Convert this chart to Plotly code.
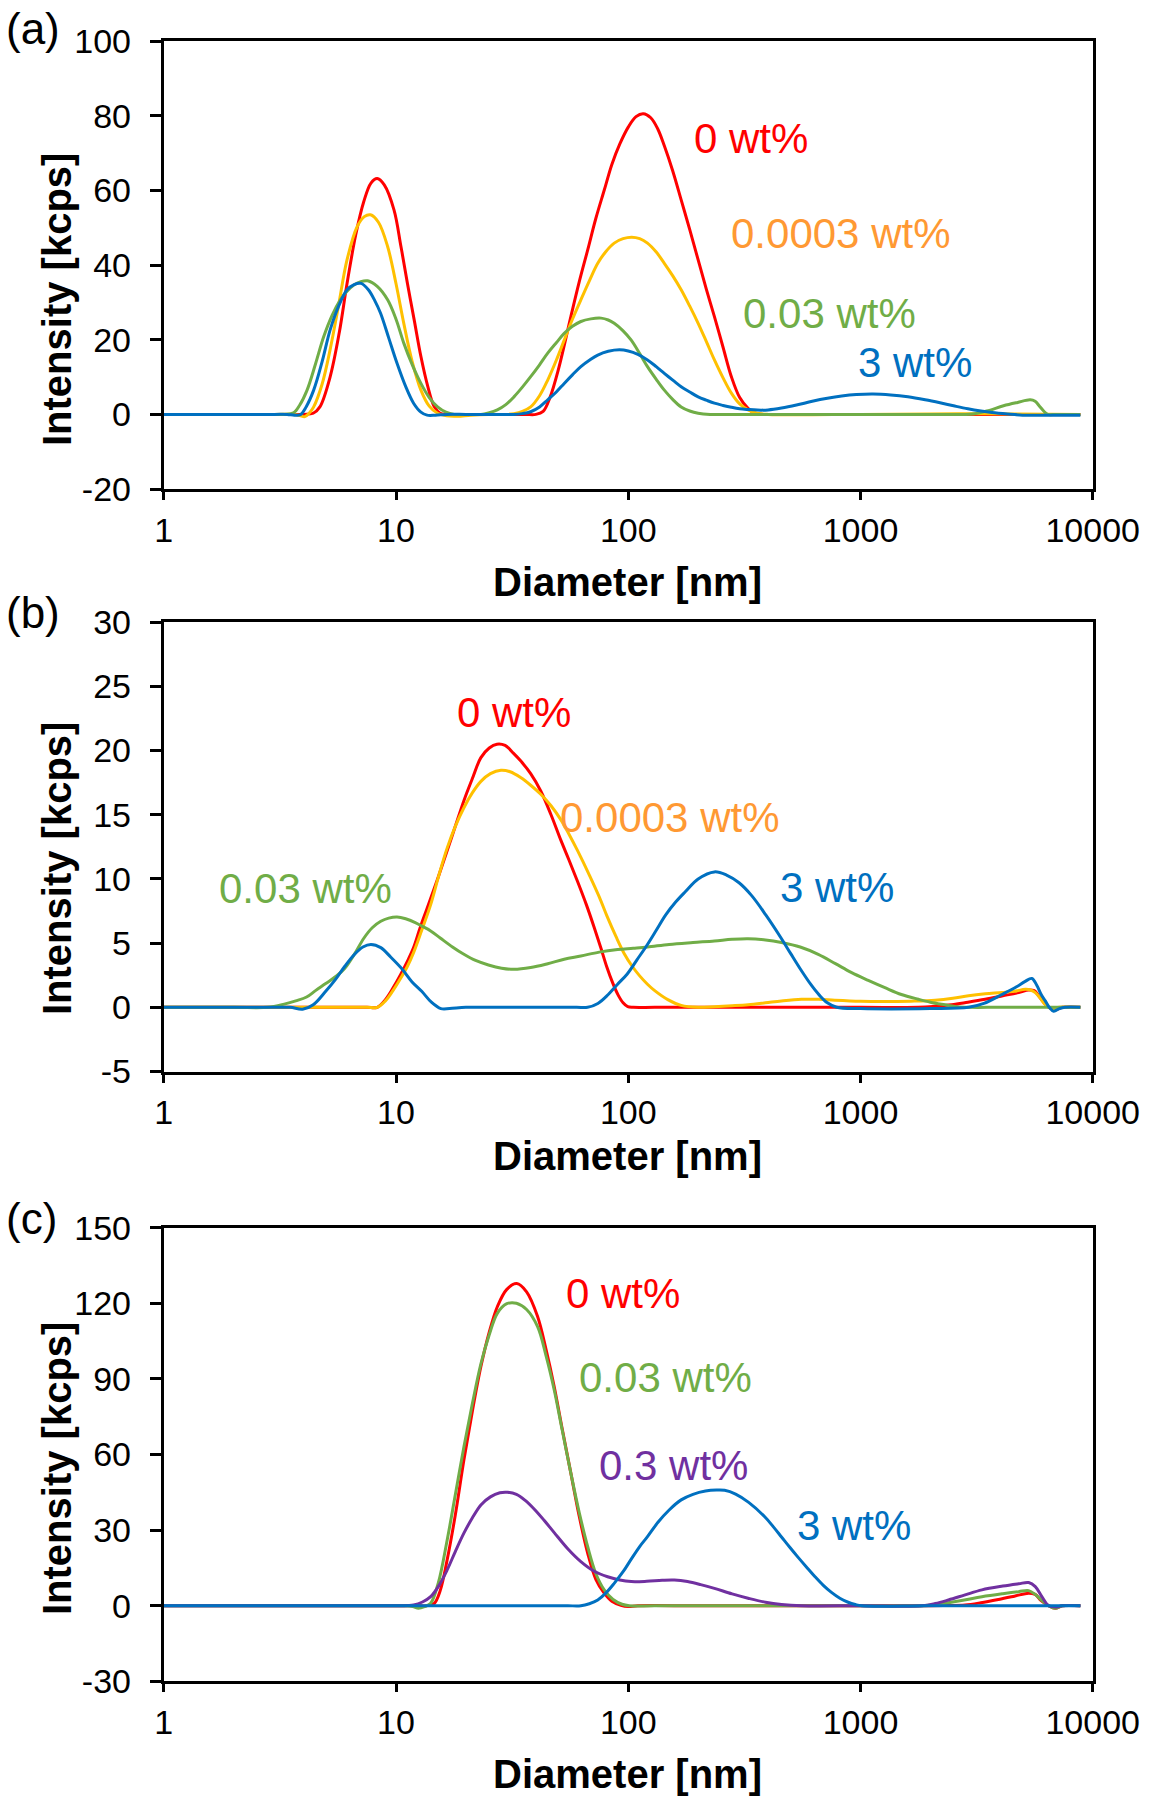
import plotly.graph_objects as go

# ---------------- data (diameter [nm], intensity [kcps]) ----------------
X_TICKS = [1, 10, 100, 1000, 10000]
X_TICK_TEXT = ["1", "10", "100", "1000", "10000"]

# panel (a)
A_RED_D = [1, 2, 3, 4.0, 4.4, 4.7, 5.2, 5.7, 6.15, 6.7, 7.26, 7.8, 8.3, 8.9, 9.8, 10.5, 11.2, 12.0, 12.8, 13.7, 14.6, 15.5, 16.5, 20, 25, 30, 36, 40, 43, 46, 50, 56.6, 61.5, 66.9, 72.5, 78.9, 85, 92, 100, 108, 116, 125, 134, 143, 155, 169, 184, 200, 217, 235, 256, 278, 302, 328, 350, 380, 600, 1000, 2000, 4000, 8850]
A_RED_I = [0, 0, 0, 0, 0.3, 2, 10, 22, 35, 48, 57, 62, 63.2, 61.5, 54.8, 45, 35.1, 25, 15.5, 7.5, 2.1, 0.3, 0, 0, 0, 0, 0, 0, 0.8, 4.5, 12, 26.2, 35.5, 44.1, 52.5, 60.2, 67, 72.5, 77, 79.8, 80.6, 79.5, 76.5, 72, 65.5, 57.5, 49.5, 41.4, 33.5, 26.2, 18, 10.1, 4.5, 1.6, 0.3, 0, 0, 0, 0, 0, 0]

A_GOLD_D = [1, 2, 3, 3.6, 3.85, 4.05, 4.25, 4.42, 4.8, 5.2, 5.65, 6.15, 6.8, 7.3, 7.76, 8.4, 9.2, 10.0, 10.8, 11.7, 12.8, 13.9, 15.1, 16.5, 18.4, 21, 25, 30, 32.2, 35, 38, 41.5, 45, 49, 53, 57.5, 62.5, 68, 73.9, 80, 87, 95, 103.5, 112, 121, 132, 143, 156, 169, 184, 200, 217, 235, 256, 278, 302, 328, 360, 400, 1000, 2000, 3000, 4500, 8850]
A_GOLD_I = [0, 0, 0, 0, -0.3, -0.6, 0.5, 2, 8, 17.3, 29, 41.4, 50.3, 53, 53.5, 51.5, 45, 35, 24.4, 14.5, 6.5, 2.2, 0.3, -0.4, -0.5, -0.2, 0, 0, 0.2, 0.8, 2, 5, 9.2, 14.5, 19.9, 25.5, 30.7, 35.8, 40.5, 43.6, 45.9, 47.1, 47.5, 47.1, 45.9, 43.5, 40.5, 37, 33.4, 29, 24.4, 19.5, 14.6, 9.8, 5.7, 2.8, 1.2, 0.3, 0, 0, 0.1, 0.2, 0.1, 0]

A_GREEN_D = [1, 2, 3, 3.3, 3.62, 3.85, 4.14, 4.5, 4.88, 5.3, 5.76, 6.15, 6.58, 7.05, 7.55, 8.3, 9.2, 10.0, 10.8, 11.8, 12.8, 13.9, 15.1, 16.4, 17.8, 20, 23.2, 25, 27.3, 29.7, 32.2, 35, 38, 41.5, 45, 49, 53, 57.5, 62.5, 69, 76.4, 82, 87, 95, 103, 112, 121, 132, 143, 156, 169, 184, 200, 225, 300, 500, 1000, 2000, 3050, 3500, 4130, 4750, 5380, 5650, 5900, 6150, 6400, 7000, 8850]
A_GREEN_I = [0, 0, 0, 0, 0.4, 2.5, 6.5, 13.5, 20.8, 26.5, 30.7, 33.0, 34.7, 35.6, 35.8, 34.3, 30.7, 25.5, 19.1, 13.0, 8.3, 4.5, 2, 0.6, 0, 0, 0, 0.4, 1.2, 2.6, 4.7, 7.3, 10.1, 13.3, 16.4, 19.2, 21.7, 23.6, 24.9, 25.6, 25.8, 25.3, 24.4, 22.4, 19.9, 16.3, 12.8, 9.4, 6.5, 3.9, 2, 0.9, 0.3, 0, 0, 0, 0, 0, 0.1, 0.9, 2.3, 3.2, 3.9, 3.5, 2.2, 0.9, 0, 0, 0]

A_BLUE_D = [1, 2, 3, 3.4, 3.65, 3.87, 4.1, 4.42, 4.8, 5.2, 5.65, 6.15, 6.6, 7.07, 7.6, 8.1, 8.58, 9.3, 10.1, 11.0, 11.9, 12.8, 13.6, 14.8, 16.6, 20, 25, 30, 32.2, 35, 38, 41.5, 45, 49, 53, 57.5, 62.5, 68, 73.9, 82, 91.6, 100, 110, 121, 132, 143, 156, 169, 184, 200, 217, 235, 256, 278, 302, 328, 360, 400, 457, 530, 620, 720, 830, 960, 1133, 1350, 1600, 1900, 2200, 2518, 2900, 3300, 3683, 4300, 4990, 6000, 8850]
A_BLUE_I = [0, 0, 0, 0, -0.2, -0.1, 2, 6.5, 14, 22.6, 28.9, 33.4, 34.8, 35.1, 33.4, 30.5, 27.1, 20.5, 13.7, 7.5, 3.0, 0.6, -0.2, -0.2, 0, 0, 0, 0, 0, 0.2, 0.7, 2, 3.9, 6, 8.3, 10.6, 12.8, 14.5, 15.9, 16.9, 17.3, 17, 16.1, 14.6, 12.8, 11, 9.1, 7.4, 6, 4.7, 3.8, 3.0, 2.4, 1.9, 1.5, 1.3, 1.15, 1.2, 1.7, 2.5, 3.5, 4.3, 4.9, 5.3, 5.45, 5.2, 4.7, 3.9, 3.1, 2.3, 1.5, 0.9, 0.5, 0.1, -0.2, -0.2, -0.2]

# panel (b)
B_RED_D = [1, 2, 4, 6, 7.5, 8.3, 9.0, 9.7, 10.5, 11.2, 11.9, 12.7, 13.6, 15.1, 16.6, 18, 19.6, 21.3, 23.2, 25.2, 27.2, 29.5, 32, 34.4, 38, 42, 46.5, 51.3, 55.5, 60.5, 66, 71.4, 76.3, 81, 85.7, 90.5, 95, 99.5, 105, 130, 300, 1000, 1775, 2100, 2470, 2900, 3443, 4100, 4800, 5300, 5600, 5850, 6150, 6460, 6900, 7400, 8850]
B_RED_I = [0, 0, 0, 0, 0, 0, 0.6, 1.5, 2.6, 3.6, 4.65, 6.2, 7.7, 10, 12.2, 14.1, 16.1, 17.8, 19.45, 20.2, 20.5, 20.4, 19.8, 19.2, 18.2, 16.85, 15.0, 13.0, 11.5, 9.8, 8.0, 6.2, 4.6, 3.1, 1.9, 0.95, 0.35, 0.05, 0, 0, 0, 0, 0, 0.08, 0.2, 0.4, 0.63, 0.9, 1.15, 1.35, 1.3, 0.9, 0.4, 0, -0.2, 0, 0]

B_GOLD_D = [1, 2, 4, 6, 7.5, 8.3, 9.0, 9.7, 10.5, 11.2, 11.9, 12.9, 14.1, 15.3, 16.6, 18, 19.6, 21.3, 23.2, 25.5, 28.3, 31, 34.4, 38, 42, 46.5, 51.3, 55.5, 60.5, 68, 75, 81, 88.6, 96, 104, 112, 121, 130, 148, 169, 200, 235, 280, 328, 390, 457, 557, 660, 775, 1000, 1274, 1650, 2095, 2500, 2920, 3450, 4066, 4600, 5130, 5400, 5660, 5950, 6250, 6650, 7200, 8850]
B_GOLD_I = [0, 0, 0, 0, 0, 0, 0.5, 1.3, 2.3, 3.2, 4.26, 6.0, 8.0, 10.3, 12.4, 14.1, 15.55, 16.7, 17.6, 18.2, 18.47, 18.35, 17.9, 17.3, 16.6, 15.7, 14.6, 13.5, 12.2, 10.3, 8.6, 7.1, 5.5, 4.2, 3.2, 2.45, 1.8, 1.3, 0.6, 0.15, 0, 0.05, 0.12, 0.2, 0.35, 0.5, 0.63, 0.62, 0.55, 0.47, 0.45, 0.48, 0.55, 0.7, 0.9, 1.05, 1.15, 1.25, 1.4, 1.35, 1.15, 0.7, 0.2, -0.1, 0, 0]

B_GREEN_D = [1, 2, 2.8, 3.3, 3.7, 4.12, 4.5, 4.98, 5.5, 6.02, 6.6, 7.28, 7.9, 8.6, 9.3, 10.1, 11, 12.1, 13, 14.1, 15.5, 17.5, 19.6, 22, 25, 28.5, 32.2, 38, 45, 53, 62.5, 75, 90, 105, 121, 150, 190, 235, 280, 328, 390, 457, 550, 658, 780, 916, 1080, 1274, 1500, 1775, 2000, 2313, 2600, 2920, 4000, 8850]
B_GREEN_I = [0, 0, 0, 0.25, 0.5, 0.8, 1.3, 1.85, 2.4, 3.04, 4.1, 5.4, 6.2, 6.7, 6.95, 7.04, 6.9, 6.6, 6.3, 5.95, 5.4, 4.7, 4.13, 3.65, 3.3, 3.05, 2.96, 3.1, 3.4, 3.75, 4.0, 4.3, 4.5, 4.6, 4.7, 4.9, 5.05, 5.17, 5.3, 5.35, 5.25, 5.05, 4.7, 4.13, 3.4, 2.7, 2.1, 1.53, 1.0, 0.63, 0.4, 0.2, 0.05, 0, 0, 0]

B_BLUE_D = [1, 2, 3, 3.5, 3.96, 4.4, 4.98, 5.5, 6.02, 6.6, 7.2, 7.8, 8.6, 9.5, 10.6, 11.7, 12.9, 14.2, 15.6, 17, 20, 30, 45, 60, 66.8, 74, 82, 90, 99, 109, 120, 132, 145, 160, 176, 200, 235, 265, 300, 340, 391, 455, 500, 550, 610, 665, 720, 790, 1000, 2000, 2920, 3400, 4066, 4700, 5100, 5470, 5750, 6000, 6250, 6500, 6790, 7200, 7600, 8850]
B_BLUE_I = [0, 0, 0, 0, -0.15, 0.2, 1.25, 2.2, 3.2, 4.1, 4.7, 4.9, 4.65, 3.9, 3.0, 2.0, 1.25, 0.4, -0.1, -0.1, 0, 0, 0, 0, 0, 0.3, 1.0, 1.8, 2.6, 3.7, 4.8, 6.0, 7.2, 8.2, 9.0, 10.0, 10.55, 10.3, 9.7, 8.7, 7.2, 5.4, 4.2, 3.0, 1.8, 0.95, 0.35, 0, -0.1, -0.1, 0, 0.3, 1.0, 1.6, 2.0, 2.25, 1.7, 1.0, 0.5, 0, -0.3, -0.1, 0, 0]

# panel (c)
C_RED_D = [1, 3, 6, 9, 11, 12.5, 13.5, 14.6, 15.5, 16.6, 18, 19.6, 21.3, 23.2, 25.2, 27.3, 30, 33.1, 36.5, 40.7, 44.3, 48, 52, 56.6, 61.5, 66.9, 72.5, 78.8, 85, 93, 100, 110, 200, 500, 1000, 2000, 2400, 2823, 3300, 3932, 4600, 5300, 5650, 6000, 6460, 6900, 7400, 8850]
C_RED_I = [0, 0, 0, 0, 0, 0, 0, 0.9, 6, 18.2, 36, 57.8, 77, 94.9, 108.5, 118.6, 125.5, 127.8, 124.5, 114.7, 101.5, 86.9, 70, 52.6, 35.5, 20.8, 10.5, 5.0, 1.8, 0.2, -0.3, 0, 0, 0, 0, 0, 0.1, 0.3, 1.2, 2.5, 3.8, 5.0, 4.5, 2, 0, -1, 0, 0]

C_GREEN_D = [1, 3, 6, 9, 11, 11.8, 12.5, 13.3, 14.1, 15.2, 16.6, 18, 19.6, 21.3, 23.2, 25.2, 27.3, 30, 33, 36.5, 40.7, 44.3, 48, 52, 56.6, 61.5, 66.9, 72.5, 78.8, 86, 94, 101, 130, 300, 1000, 1835, 2100, 2393, 2800, 3334, 4100, 4800, 5300, 5660, 6050, 6460, 6900, 7400, 8850]
C_GREEN_I = [0, 0, 0, 0, 0, -0.3, -1, -0.3, 1, 9, 26, 44, 63, 80, 96, 107.5, 116, 119.8, 120, 117.5, 110.7, 99, 85.6, 69.5, 52.6, 37, 23.4, 12.8, 6.3, 2.5, 0.6, 0, 0, 0, 0, 0, 0.4, 1.2, 2.3, 3.6, 4.8, 5.6, 6.0, 4.5, 2.0, 0, -1, 0, 0]

C_PURPLE_D = [1, 3, 6, 9, 10.5, 11.2, 11.9, 13, 14.1, 15.3, 16.6, 18, 19.6, 21.3, 23.2, 25.5, 28, 30.2, 33, 36, 39.5, 43.5, 48, 55, 62.5, 71, 81.5, 92, 103, 120, 140, 158, 180, 205, 235, 280, 328, 390, 457, 557, 1000, 1835, 2100, 2393, 2800, 3334, 4100, 4800, 5300, 5660, 6050, 6460, 6900, 7400, 8850]
C_PURPLE_I = [0, 0, 0, 0, 0, 0.1, 0.3, 1.5, 3.6, 8, 14.2, 21.5, 28.8, 34.8, 40, 43.2, 44.8, 45, 44.2, 41.8, 38.2, 33.8, 29.0, 22.5, 17.5, 13.8, 11.5, 10.2, 9.6, 9.7, 10.1, 10.2, 9.6, 8.4, 6.9, 4.7, 3.0, 1.4, 0.5, 0, 0, 0, 0.9, 2.3, 4.2, 6.3, 7.8, 8.7, 9.2, 7.6, 3.5, 0, -0.5, 0, 0]

C_BLUE_D = [1, 5, 20, 45, 55, 62.5, 68, 73.9, 80, 87, 95, 103, 112, 121, 134, 150, 169, 190, 215, 240, 260, 290, 330, 387, 420, 457, 495, 539, 585, 636, 690, 750, 815, 885, 950, 1011, 2000, 5000, 8850]
C_BLUE_I = [0, 0, 0, 0, 0, 0, 0.8, 2.3, 5, 8.9, 13.5, 18.5, 23.5, 27.4, 33, 38, 42, 44.2, 45.5, 45.9, 45.8, 44.3, 41, 35.3, 31.5, 27.3, 23.3, 19.2, 15.4, 11.6, 8.2, 5.3, 3.0, 1.4, 0.5, 0, 0, 0, 0]

Y_TICKS = {"a": [-20, 0, 20, 40, 60, 80, 100],
           "b": [-5, 0, 5, 10, 15, 20, 25, 30],
           "c": [-30, 0, 30, 60, 90, 120, 150]}

RED = "#FF0000"
GOLD = "#FFC000"
ORANGE_TXT = "#FF9933"
GREEN = "#70AD47"
BLUE = "#0070C0"
PURPLE = "#7030A0"

FONT = "Liberation Sans, Arial, sans-serif"
W, H = 1149, 1800

panels = [
    ("a", "x", "y", [(A_RED_D, A_RED_I, RED), (A_GOLD_D, A_GOLD_I, GOLD), (A_GREEN_D, A_GREEN_I, GREEN), (A_BLUE_D, A_BLUE_I, BLUE)]),
    ("b", "x2", "y2", [(B_RED_D, B_RED_I, RED), (B_GOLD_D, B_GOLD_I, GOLD), (B_GREEN_D, B_GREEN_I, GREEN), (B_BLUE_D, B_BLUE_I, BLUE)]),
    ("c", "x3", "y3", [(C_RED_D, C_RED_I, RED), (C_GREEN_D, C_GREEN_I, GREEN), (C_PURPLE_D, C_PURPLE_I, PURPLE), (C_BLUE_D, C_BLUE_I, BLUE)]),
]

fig = go.Figure()
for key, xa, ya, series in panels:
    for d, v, col in series:
        fig.add_trace(go.Scatter(x=d, y=v, xaxis=xa, yaxis=ya, mode="lines",
                                 line=dict(color=col, width=3, shape="spline", smoothing=1.0),
                                 showlegend=False, hoverinfo="skip"))

# plot areas in pixels (left, top, right, bottom)
PLOT_PX = {"a": (163.8, 41.3, 1092.7, 489.0),
           "b": (163.8, 622.2, 1092.7, 1071.5),
           "c": (163.8, 1227.6, 1092.7, 1681.4)}

layout = dict(template="none", width=W, height=H, autosize=False,
              margin=dict(l=0, r=0, t=0, b=0, autoexpand=False),
              paper_bgcolor="white", plot_bgcolor="white",
              font=dict(family=FONT, color="black"))

for i, key in enumerate(["a", "b", "c"]):
    l, t, r, b = PLOT_PX[key]
    sfx = "" if i == 0 else str(i + 1)
    yt = Y_TICKS[key]
    layout["xaxis" + sfx] = dict(
        type="log", range=[0, 4], domain=[l / W, r / W], automargin=False,
        anchor="y" + sfx, tickmode="array", tickvals=X_TICKS, ticktext=X_TICK_TEXT,
        ticks="outside", ticklen=8, tickwidth=3, tickcolor="black",
        showline=True, linewidth=3, linecolor="black", mirror=True,
        showgrid=False, zeroline=False,
        tickfont=dict(family=FONT, size=34, color="black"),
        ticklabelstandoff=1)
    layout["yaxis" + sfx] = dict(
        range=[yt[0], yt[-1]], tickmode="array", tickvals=yt,
        ticktext=[str(v) for v in yt],
        domain=[1 - b / H, 1 - t / H], anchor="x" + sfx, automargin=False,
        ticks="outside", ticklen=11, tickwidth=3, tickcolor="black",
        showline=True, linewidth=3, linecolor="black", mirror=True,
        showgrid=False, zeroline=False,
        tickfont=dict(family=FONT, size=34, color="black"),
        ticklabelstandoff=12)

fig.update_layout(**layout)

def px_ann(text, x, y, color="black", size=41, bold=False, xanchor="left", angle=0):
    fig.add_annotation(text=("<b>%s</b>" % text) if bold else text,
                       x=x / W, y=1 - y / H, xref="paper", yref="paper",
                       xanchor=xanchor, yanchor="middle", showarrow=False,
                       textangle=angle,
                       font=dict(family=FONT, size=size, color=color))

# panel letters
px_ann("(a)", 4, 29, size=44)
px_ann("(b)", 4, 612, size=44)
px_ann("(c)", 4, 1218, size=44)

# axis titles
for key, ty_x, ty_y in [("a", 582, 300), ("b", 1156, 869), ("c", 1774, 1469)]:
    px_ann("Diameter [nm]", 627, ty_x, size=40, bold=True, xanchor="center")
    px_ann("Intensity [kcps]", 57, ty_y, size=40, bold=True, xanchor="center", angle=-90)

# series labels
px_ann("0 wt%", 692, 139, RED, size=42)
px_ann("0.0003 wt%", 729, 233, ORANGE_TXT, size=42)
px_ann("0.03 wt%", 741, 314, GREEN, size=42)
px_ann("3 wt%", 856, 362, BLUE, size=42)

px_ann("0 wt%", 455, 712, RED, size=42)
px_ann("0.0003 wt%", 558, 817, ORANGE_TXT, size=42)
px_ann("0.03 wt%", 217, 888, GREEN, size=42)
px_ann("3 wt%", 778, 887, BLUE, size=42)

px_ann("0 wt%", 564, 1293, RED, size=42)
px_ann("0.03 wt%", 577, 1377, GREEN, size=42)
px_ann("0.3 wt%", 597, 1465, PURPLE, size=42)
px_ann("3 wt%", 795, 1525, BLUE, size=42)

fig.write_html("out.html", config={"displayModeBar": False},
               post_script="document.body.style.margin='0px';")
